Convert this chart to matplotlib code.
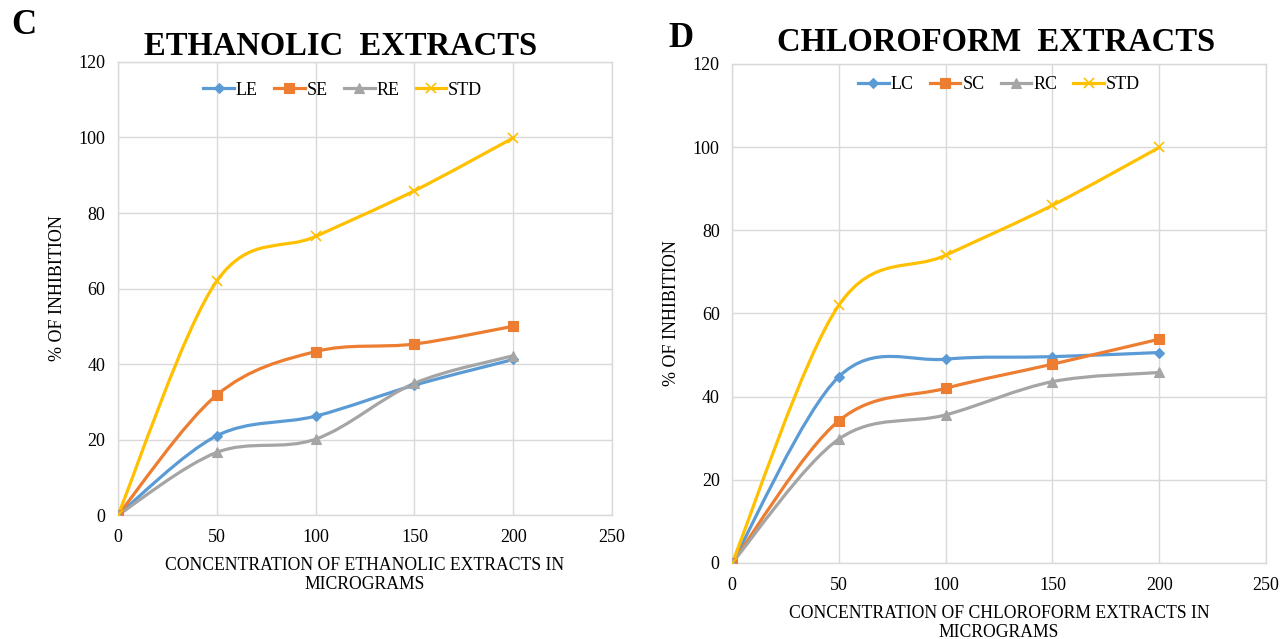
import numpy as np
import matplotlib
matplotlib.use("Agg")
import matplotlib.pyplot as plt
from matplotlib.path import Path
from matplotlib.patches import PathPatch
from matplotlib.lines import Line2D

plt.rcParams.update({
    "font.family": ["Liberation Serif", "DejaVu Serif"],
    "font.size": 13,
})

conc = [0, 50, 100, 150, 200]

# ethanolic extracts (% inhibition)
le = [0, 21.0, 26.2, 34.4, 41.2]
se = [0, 31.8, 43.3, 45.3, 50.0]
re = [0, 16.6, 20.1, 34.9, 42.2]
std_e = [0, 62.0, 73.8, 85.9, 99.9]

# chloroform extracts (% inhibition)
lc = [0, 44.8, 49.0, 49.6, 50.6]
sc = [0, 34.2, 42.0, 47.8, 53.8]
rc = [0, 29.8, 35.6, 43.6, 45.8]
std_c = [0, 62.0, 74.0, 86.0, 99.9]

BLUE, ORANGE, GREY, GOLD = "#5B9BD5", "#ED7D31", "#A5A5A5", "#FFC000"
GRID = "#D9D9D9"


def smooth_path(x, y):
    """Catmull-Rom style cubic Bezier through the points (spreadsheet 'smoothed line')."""
    p = np.column_stack([x, y]).astype(float)
    ext = np.vstack([p[0], p, p[-1]])
    verts, codes = [p[0]], [Path.MOVETO]
    for i in range(len(p) - 1):
        p0, p1, p2, p3 = ext[i], ext[i + 1], ext[i + 2], ext[i + 3]
        c1 = p1 + (p2 - p0) / 6.0
        c2 = p2 - (p3 - p1) / 6.0
        verts += [c1, c2, p2]
        codes += [Path.CURVE4] * 3
    return Path(verts, codes)


def series(ax, y, color, marker, ms, label):
    ax.add_patch(PathPatch(smooth_path(conc, y), facecolor="none",
                           edgecolor=color, lw=2.3, zorder=3, capstyle="round"))
    mew = 1.2 if marker == "x" else 0.8
    ax.plot(conc, y, linestyle="none", marker=marker, ms=ms, color=color,
            mec=color, mew=mew, zorder=4)
    return Line2D([], [], color=color, lw=2.3, marker=marker, ms=ms,
                  mew=mew, label=label)


def style(ax):
    ax.set_xlim(0, 250)
    ax.set_ylim(0, 120)
    ax.set_xticks(np.arange(0, 251, 50))
    ax.set_yticks(np.arange(0, 121, 20))
    ax.grid(True, color=GRID, lw=1.0)
    ax.set_axisbelow(True)
    for s in ax.spines.values():
        s.set_color(GRID)
        s.set_linewidth(1.0)
    ax.tick_params(length=0, labelsize=13)
    ax.tick_params(axis="x", pad=10)
    ax.tick_params(axis="y", pad=9)


def legend(ax, handles, xc, yc):
    ax.legend(handles=handles, loc="center", bbox_to_anchor=(xc, yc), ncol=4,
              frameon=False, handlelength=1.7, handletextpad=0.1,
              columnspacing=0.9, fontsize=13)


fig = plt.figure(figsize=(12.8, 6.39), dpi=100)

# panel C: ethanolic extracts
ax1 = fig.add_axes([0.0922, 0.194, 0.386, 0.709])
style(ax1)
h = [series(ax1, le, BLUE, "D", 5.5, "LE"),
     series(ax1, se, ORANGE, "s", 7.5, "SE"),
     series(ax1, re, GREY, "^", 7, "RE"),
     series(ax1, std_e, GOLD, "x", 7, "STD")]
legend(ax1, h, 0.455, 0.938)
ax1.set_ylabel("% OF INHIBITION", fontsize=13, labelpad=9)
ax1.set_xlabel("CONCENTRATION OF ETHANOLIC EXTRACTS IN\nMICROGRAMS",
               fontsize=12.7, labelpad=8, linespacing=1.15)
ax1.text(0.45, 1.0, "ETHANOLIC  EXTRACTS", transform=ax1.transAxes,
         ha="center", va="bottom", fontsize=23.5, fontweight="bold")
fig.text(0.009, 0.96, "C", fontsize=25, fontweight="bold", va="center")

# panel D: chloroform extracts
ax2 = fig.add_axes([0.572, 0.119, 0.417, 0.781])
style(ax2)
h = [series(ax2, lc, BLUE, "D", 5.5, "LC"),
     series(ax2, sc, ORANGE, "s", 7.5, "SC"),
     series(ax2, rc, GREY, "^", 7, "RC"),
     series(ax2, std_c, GOLD, "x", 7, "STD")]
legend(ax2, h, 0.50, 0.958)
ax2.set_ylabel("% OF INHIBITION", fontsize=13, labelpad=9)
ax2.set_xlabel("CONCENTRATION OF CHLOROFORM EXTRACTS IN\nMICROGRAMS",
               fontsize=12.7, labelpad=8, linespacing=1.15)
ax2.text(0.494, 1.012, "CHLOROFORM  EXTRACTS", transform=ax2.transAxes,
         ha="center", va="bottom", fontsize=23.5, fontweight="bold")
fig.text(0.522, 0.94, "D", fontsize=25, fontweight="bold", va="center")

fig.savefig("out.png", dpi=100, facecolor="white")
